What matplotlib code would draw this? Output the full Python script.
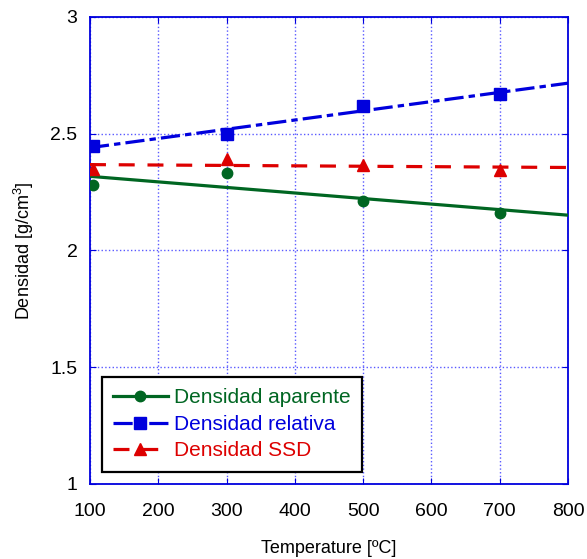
import numpy as np
import matplotlib
matplotlib.use("Agg")
import matplotlib.pyplot as plt
from matplotlib.ticker import FormatStrFormatter

plt.rcParams['font.family'] = ['Liberation Sans', 'DejaVu Sans']
plt.rcParams['mathtext.default'] = 'regular'

# datos
temp = [105, 300, 500, 700]
aparente = [2.279, 2.331, 2.212, 2.162]
relativa = [2.449, 2.499, 2.619, 2.670]
ssd = [2.348, 2.392, 2.364, 2.346]

labels = ['Densidad aparente', 'Densidad relativa', 'Densidad SSD']
colors = ['#006622', '#0000dd', '#dd0000']
markers = ['o', 's', '^']
msizes = [7.5, 8.5, 8]
dashes = [None, (6, 1.6, 2, 1.6), (5, 4)]

fig = plt.figure(figsize=(5.87, 5.59), dpi=100)
ax = fig.add_axes([0.1533, 0.1342, 0.8143, 0.8354])

xfit = np.array([100, 800])
for y, lab, c, m, ms, d in zip([aparente, relativa, ssd], labels, colors,
                               markers, msizes, dashes):
    # recta de ajuste por minimos cuadrados
    p = np.polyfit(temp, y, 1)
    ax.plot(xfit, np.polyval(p, xfit), color=c, lw=2.3,
            dashes=d if d else (None, None), zorder=3)
    ax.plot(temp, y, m, color=c, ms=ms, zorder=4)
    # entrada de leyenda
    kw = dict(dashes=d) if d else {}
    ax.plot([], [], color=c, lw=2.3, marker=m, ms=ms, label=lab, **kw)

ax.set_xlim(100, 800)
ax.set_ylim(1, 3)
ax.set_xticks(range(100, 801, 100))
ax.set_yticks([1, 1.5, 2, 2.5, 3])
ax.yaxis.set_major_formatter(FormatStrFormatter('%g'))
ax.grid(True, color='#3030ff', linestyle=':', linewidth=1.0, alpha=0.8)
for s in ax.spines.values():
    s.set_color('#0000dd')
    s.set_linewidth(1.3)
ax.tick_params(direction='in', length=4, color='#0000dd', labelsize=14,
               top=True, right=True)
ax.tick_params(axis='x', pad=14)
ax.tick_params(axis='y', pad=9)
ax.set_xlabel('Temperature [ºC]', fontsize=13, labelpad=14)
ax.set_ylabel('Densidad [g/cm$^3$]', fontsize=13, labelpad=10)

leg = ax.legend(loc='lower left', bbox_to_anchor=(0.025, 0.026),
                borderaxespad=0, fontsize=15, fancybox=False, framealpha=1,
                edgecolor='black', handlelength=2.6, handletextpad=0.3,
                labelspacing=0.36, borderpad=0.55)
leg.get_frame().set_linewidth(1.6)
for t, c in zip(leg.get_texts(), colors):
    t.set_color(c)

fig.savefig('out.png', dpi=100)
